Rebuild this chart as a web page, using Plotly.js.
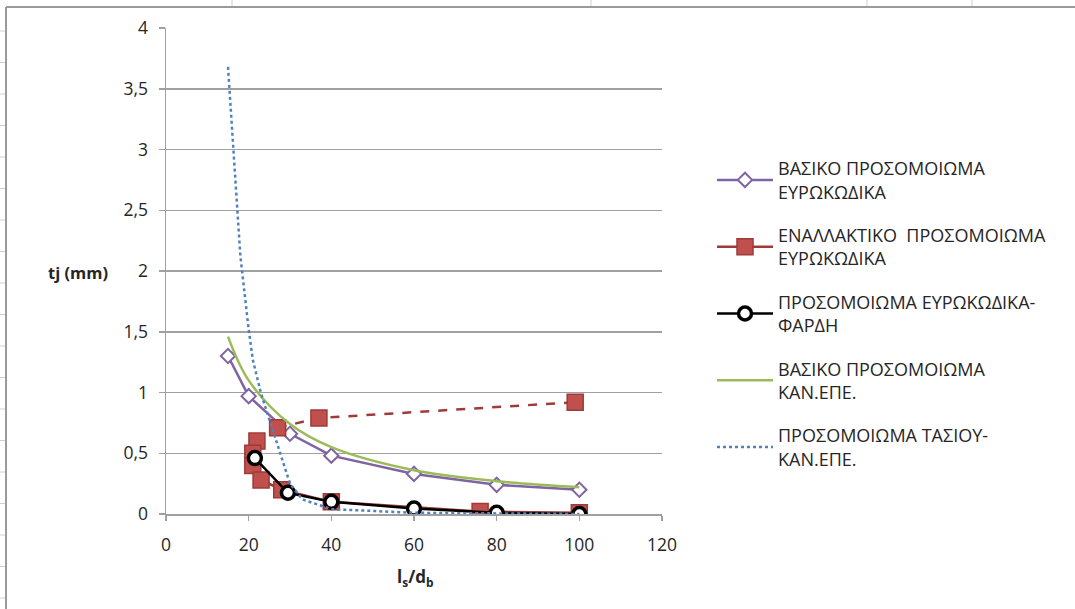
<!DOCTYPE html>
<html>
<head>
<meta charset="utf-8">
<script src="https://cdn.plot.ly/plotly-3.0.1.min.js"></script>
<style>html,body{margin:0;padding:0;background:#fff;}#chart{width:1075px;height:609px;}</style>
</head>
<body>
<div id="chart"></div>
<script>
// ---- data ----
const seriesNames = [
  "ΒΑΣΙΚΟ ΠΡΟΣΟΜΟΙΩΜΑ<br>ΕΥΡΩΚΩΔΙΚΑ",
  "ΕΝΑΛΛΑΚΤΙΚΟ  ΠΡΟΣΟΜΟΙΩΜΑ<br>ΕΥΡΩΚΩΔΙΚΑ",
  "ΠΡΟΣΟΜΟΙΩΜΑ ΕΥΡΩΚΩΔΙΚΑ-<br>ΦΑΡΔΗ",
  "ΒΑΣΙΚΟ ΠΡΟΣΟΜΟΙΩΜΑ<br>ΚΑΝ.ΕΠΕ.",
  "ΠΡΟΣΟΜΟΙΩΜΑ ΤΑΣΙΟΥ-<br>ΚΑΝ.ΕΠΕ."
];
const basicEcX = [15, 20, 30, 40, 60, 80, 100];
const basicEcY = [1.30, 0.97, 0.66, 0.48, 0.33, 0.24, 0.20];

const altEcX = [22, 21, 21, 23, 28, 40, 76, 100];
const altEcY = [0.60, 0.50, 0.40, 0.28, 0.20, 0.10, 0.02, 0.01];
const altEcUpperX = [27, 37, 99];
const altEcUpperY = [0.71, 0.79, 0.92];

const fardisX = [21.5, 29.5, 40, 60, 80, 100];
const fardisY = [0.46, 0.175, 0.10, 0.045, 0.01, 0.0];

const basicKanX = [15, 20, 30, 40, 60, 80, 100];
const basicKanY = [1.46, 1.10, 0.74, 0.55, 0.36, 0.27, 0.22];

const tasiouX = [15, 16, 17, 18, 20, 21, 23, 25, 27.5, 30, 33, 40, 60, 80, 100];
const tasiouY = [3.68, 3.15, 2.60, 2.12, 1.52, 1.27, 0.99, 0.78, 0.50, 0.25, 0.12, 0.04, 0.01, 0.005, 0.0];

const xTickVals = [0, 20, 40, 60, 80, 100, 120];
const yTickVals = [0, 0.5, 1, 1.5, 2, 2.5, 3, 3.5, 4];

const purple = "#8064A2", red = "#C0504D", redDark = "#9E3B38", green = "#9BBB59", blue = "#4F81BD";

const traces = [
  {x: basicEcX, y: basicEcY, name: seriesNames[0], legendgroup: "g1", mode: "lines+markers",
   line: {color: purple, width: 2.5},
   marker: {symbol: "diamond", size: 11, color: "#ffffff", line: {color: purple, width: 2}}},
  {x: altEcX, y: altEcY, name: seriesNames[1], legendgroup: "g2", mode: "lines+markers",
   line: {color: redDark, width: 2.5},
   marker: {symbol: "square", size: 16, color: red, line: {color: redDark, width: 1.5}}},
  {x: altEcUpperX, y: altEcUpperY, name: seriesNames[1], legendgroup: "g2", showlegend: false, mode: "lines+markers",
   line: {color: redDark, width: 2.5, dash: "dash"},
   marker: {symbol: "square", size: 16, color: red, line: {color: redDark, width: 1.5}}},
  {x: fardisX, y: fardisY, name: seriesNames[2], legendgroup: "g3", mode: "lines+markers",
   line: {color: "#000000", width: 2.5},
   marker: {symbol: "circle", size: 13, color: "#ffffff", line: {color: "#000000", width: 3.5}}},
  {x: basicKanX, y: basicKanY, name: seriesNames[3], legendgroup: "g4", mode: "lines",
   line: {color: green, width: 2.5, shape: "spline", smoothing: 1}},
  {x: tasiouX, y: tasiouY, name: seriesNames[4], legendgroup: "g5", mode: "lines",
   line: {color: blue, width: 2.5, dash: "dot"}}
];

// decorative spreadsheet frame around the chart object
const shapes = [];
const W = 1075, H = 609, L = 166, R = 413, T = 28, B = 95;
const pw = W - L - R, ph = H - T - B;
const px = v => (v - L) / pw;
const py = v => (H - B - v) / ph;
shapes.push({type: "line", xref: "paper", yref: "paper", x0: px(6), x1: px(6), y0: py(H + 5), y1: py(7), line: {color: "#9a9a9a", width: 2}});
shapes.push({type: "line", xref: "paper", yref: "paper", x0: px(6), x1: px(W + 5), y0: py(7), y1: py(7), line: {color: "#9a9a9a", width: 2}});
[232, 591, 867, 972].forEach(c => shapes.push({type: "line", xref: "paper", yref: "paper", x0: px(c), x1: px(c), y0: py(0), y1: py(6), line: {color: "#d0d0d0", width: 1}}));
for (let r = 31; r < H; r += 31.5) {
  shapes.push({type: "line", xref: "paper", yref: "paper", x0: px(0), x1: px(5), y0: py(r), y1: py(r), line: {color: "#d0d0d0", width: 1}});
}

const layout = {
  width: W, height: H,
  margin: {l: L, r: R, t: T, b: B, pad: 0},
  paper_bgcolor: "#ffffff", plot_bgcolor: "#ffffff",
  separators: ", ",
  font: {family: "Open Sans, sans-serif", size: 17, color: "#262626"},
  showlegend: true,
  xaxis: {
    range: [0, 120], tickvals: xTickVals, showgrid: false, zeroline: false,
    showline: true, linecolor: "#a0a0a0", linewidth: 1.5,
    ticks: "outside", ticklen: 5, tickcolor: "#a0a0a0", tickwidth: 1.5,
    tickfont: {size: 17.5, color: "#262626"}, ticklabelstandoff: 9
  },
  yaxis: {
    range: [0, 4], tickvals: yTickVals, showgrid: true, gridcolor: "#a0a0a0", gridwidth: 1.5,
    zeroline: false, showline: true, linecolor: "#a0a0a0", linewidth: 1.5,
    ticks: "outside", ticklen: 6, tickcolor: "#a0a0a0", tickwidth: 1.5,
    tickfont: {size: 17.5, color: "#262626"}, ticklabelstandoff: 7
  },
  legend: {
    x: px(712), y: py(150), xanchor: "left", yanchor: "top",
    bgcolor: "rgba(0,0,0,0)", font: {size: 18, color: "#262626"},
    traceorder: "grouped", tracegroupgap: 17, itemwidth: 56
  },
  annotations: [
    {text: "<b>tj (mm)</b>", xref: "paper", yref: "paper", x: px(78), y: py(272), xanchor: "center", yanchor: "middle",
     showarrow: false, font: {size: 16.5, color: "#262626"}},
    {text: "<b>l<sub>s</sub>/d<sub>b</sub></b>", xref: "paper", yref: "paper", x: px(415), y: py(577), xanchor: "center", yanchor: "middle",
     showarrow: false, font: {size: 17, color: "#262626"}}
  ],
  shapes: shapes
};

Plotly.newPlot("chart", traces, layout, {displayModeBar: false, staticPlot: true});
</script>
</body>
</html>
